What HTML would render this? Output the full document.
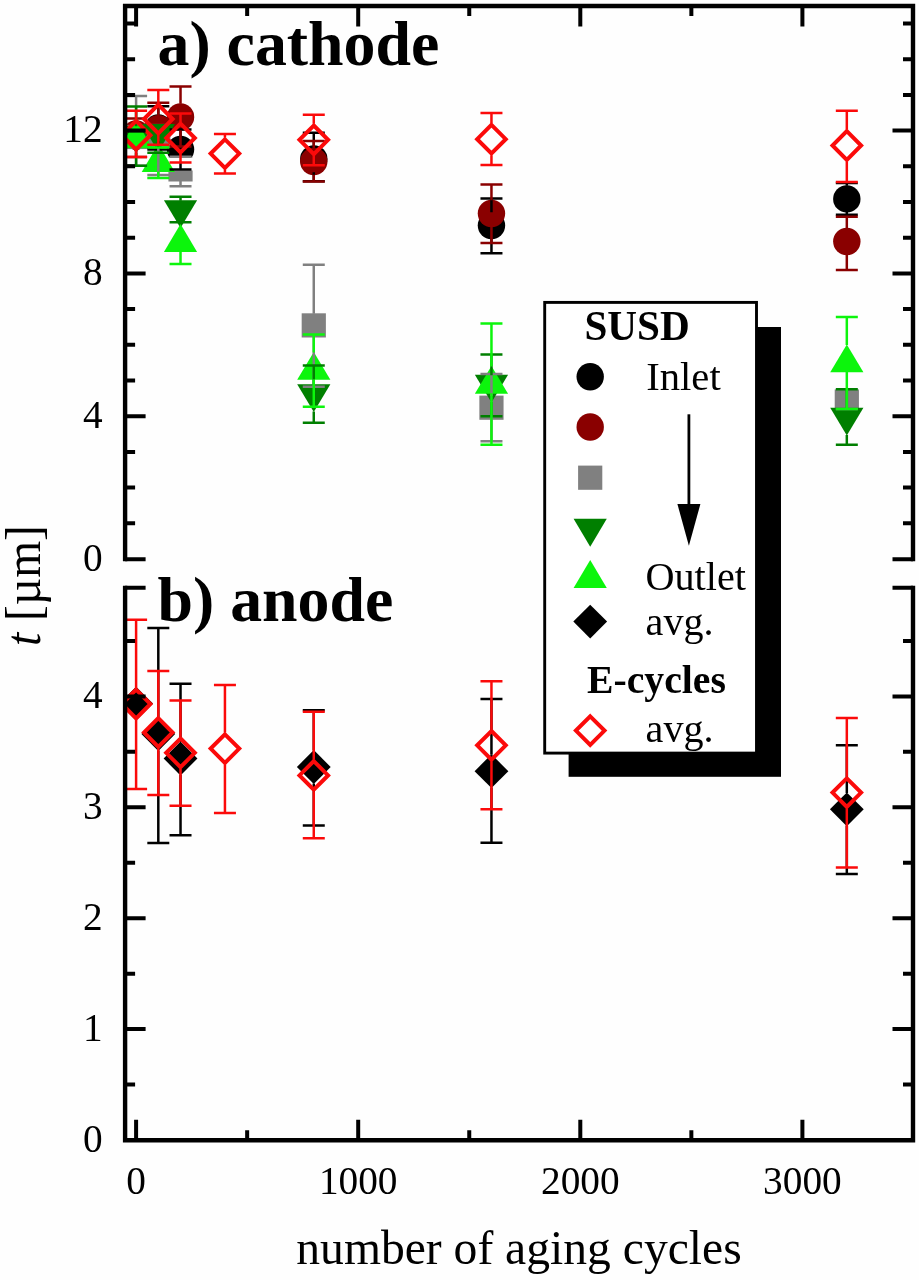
<!DOCTYPE html>
<html lang="en"><head><meta charset="utf-8"><title>Electrode thickness vs. number of aging cycles</title>
<style>html,body{margin:0;padding:0;background:#fefefe}body{width:919px;height:1280px;overflow:hidden}svg{display:block;filter:blur(0.55px)}</style>
</head><body>
<svg width="919" height="1280" viewBox="0 0 919 1280" font-family="'Liberation Serif', 'Times New Roman', serif">
<defs><clipPath id="cu"><rect x="125.1" y="6" width="787.9" height="573.2"/></clipPath>
<clipPath id="cl"><rect x="125.1" y="587.8" width="787.9" height="552.4"/></clipPath></defs>
<rect width="919" height="1280" fill="#fefefe"/>
<g clip-path="url(#cu)">
<circle cx="136.1" cy="136" r="13.7" fill="#000000"/>
<circle cx="158.31" cy="128" r="13.7" fill="#000000"/>
<circle cx="180.52" cy="149.4" r="13.7" fill="#000000"/>
<circle cx="313.78" cy="159" r="13.7" fill="#000000"/>
<circle cx="491.46" cy="225.5" r="13.7" fill="#000000"/>
<circle cx="846.82" cy="198.9" r="13.7" fill="#000000"/>
<circle cx="136.1" cy="134" r="13.7" fill="#8a0000"/>
<circle cx="158.31" cy="128.7" r="13.7" fill="#8a0000"/>
<circle cx="180.52" cy="117" r="13.7" fill="#8a0000"/>
<circle cx="313.78" cy="161.5" r="13.7" fill="#8a0000"/>
<circle cx="491.46" cy="213.5" r="13.7" fill="#8a0000"/>
<circle cx="846.82" cy="241.5" r="13.7" fill="#8a0000"/>
<rect x="124" y="124.9" width="24.2" height="24.2" fill="#808080"/>
<rect x="146.21" y="123.9" width="24.2" height="24.2" fill="#808080"/>
<rect x="168.42" y="157.3" width="24.2" height="24.2" fill="#808080"/>
<rect x="301.68" y="313.3" width="24.2" height="24.2" fill="#808080"/>
<rect x="479.36" y="395.6" width="24.2" height="24.2" fill="#808080"/>
<rect x="834.72" y="389.4" width="24.2" height="24.2" fill="#808080"/>
<rect x="166.5" y="157.6" width="28" height="12.9" fill="#fdfdfd"/>
<path d="M119.5 125.7H152.7L136.1 153.6Z" fill="#007f00"/>
<path d="M141.71 124H174.91L158.31 151.9Z" fill="#007f00"/>
<path d="M163.92 200.2H197.12L180.52 228.1Z" fill="#007f00"/>
<path d="M297.18 384.2H330.38L313.78 412.1Z" fill="#007f00"/>
<path d="M474.86 374.7H508.06L491.46 402.6Z" fill="#007f00"/>
<path d="M830.22 407.7H863.42L846.82 435.6Z" fill="#007f00"/>
<path d="M119.5 148.3H152.7L136.1 120.4Z" fill="#0cf50c"/>
<path d="M141.71 172H174.91L158.31 144.1Z" fill="#0cf50c"/>
<path d="M163.92 251.9H197.12L180.52 224Z" fill="#0cf50c"/>
<path d="M297.18 379.8H330.38L313.78 351.9Z" fill="#0cf50c"/>
<path d="M474.86 393.8H508.06L491.46 365.9Z" fill="#0cf50c"/>
<path d="M830.22 372.3H863.42L846.82 344.4Z" fill="#0cf50c"/>
<path d="M125.1 130.9H147.1" stroke="#000000" stroke-width="2.5" fill="none"/>
<path d="M147.31 106.3H169.31M158.31 106.3V114.8M147.31 149.6H169.31M158.31 141.2V149.6" stroke="#000000" stroke-width="2.5" fill="none"/>
<path d="M169.52 129.4H191.52M180.52 129.4V136.2M169.52 169.4H191.52M180.52 162.6V169.4" stroke="#000000" stroke-width="2.5" fill="none"/>
<path d="M302.78 132.8H324.78M313.78 132.8V145.8M302.78 181.25H324.78M313.78 172.2V181.25" stroke="#000000" stroke-width="2.5" fill="none"/>
<path d="M480.46 198.5H502.46M491.46 198.5V212.3M480.46 253.3H502.46M491.46 238.7V253.3" stroke="#000000" stroke-width="2.5" fill="none"/>
<path d="M835.82 183H857.82M846.82 183V185.7M835.82 214.7H857.82M846.82 212.1V214.7" stroke="#000000" stroke-width="2.5" fill="none"/>
<path d="M125.1 118.5H147.1M136.1 118.5V120.8M125.1 157.1H147.1M136.1 147.2V157.1" stroke="#8a0000" stroke-width="2.5" fill="none"/>
<path d="M147.31 102.75H169.31M158.31 102.75V115.5" stroke="#8a0000" stroke-width="2.5" fill="none"/>
<path d="M169.52 86.5H191.52M180.52 86.5V103.8M169.52 146.5H191.52M180.52 130.2V146.5" stroke="#8a0000" stroke-width="2.5" fill="none"/>
<path d="M302.78 141H324.78M313.78 141V148.3M302.78 181.5H324.78M313.78 174.7V181.5" stroke="#8a0000" stroke-width="2.5" fill="none"/>
<path d="M480.46 184.5H502.46M491.46 184.5V200.3M480.46 243.1H502.46M491.46 226.7V243.1" stroke="#8a0000" stroke-width="2.5" fill="none"/>
<path d="M835.82 216.7H857.82M846.82 216.7V228.3M835.82 270H857.82M846.82 254.7V270" stroke="#8a0000" stroke-width="2.5" fill="none"/>
<path d="M125.1 96H147.1M136.1 96V125.4M125.1 165.7H147.1M136.1 148.6V165.7" stroke="#808080" stroke-width="2.5" fill="none"/>
<path d="M147.31 175.1H169.31M158.31 147.6V175.1" stroke="#808080" stroke-width="2.5" fill="none"/>
<path d="M169.52 156.7H191.52M180.52 156.7V157.8M169.52 186.2H191.52M180.52 181V186.2" stroke="#808080" stroke-width="2.5" fill="none"/>
<path d="M302.78 264.8H324.78M313.78 264.8V313.8M302.78 386.7H324.78M313.78 337V386.7" stroke="#808080" stroke-width="2.5" fill="none"/>
<path d="M480.46 374H502.46M491.46 374V396.1M480.46 441.25H502.46M491.46 419.3V441.25" stroke="#808080" stroke-width="2.5" fill="none"/>
<path d="M835.82 394H857.82M835.82 409H857.82" stroke="#808080" stroke-width="2.5" fill="none"/>
<path d="M125.1 106.5H147.1M136.1 106.5V126.2M125.1 165.7H147.1M136.1 153.1V165.7" stroke="#007f00" stroke-width="2.5" fill="none"/>
<path d="M147.31 152.7H169.31M158.31 151.4V152.7" stroke="#007f00" stroke-width="2.5" fill="none"/>
<path d="M169.52 196.8H191.52M180.52 196.8V200.7M169.52 222.2H191.52" stroke="#007f00" stroke-width="2.5" fill="none"/>
<path d="M302.78 365.6H324.78M313.78 365.6V384.7M302.78 422.7H324.78M313.78 411.6V422.7" stroke="#007f00" stroke-width="2.5" fill="none"/>
<path d="M480.46 354.4H502.46M491.46 354.4V375.2M480.46 416.25H502.46M491.46 402.1V416.25" stroke="#007f00" stroke-width="2.5" fill="none"/>
<path d="M835.82 389.2H857.82M846.82 389.2V408.2M835.82 444.7H857.82M846.82 435.1V444.7" stroke="#007f00" stroke-width="2.5" fill="none"/>

<path d="M147.31 147.4H169.31M147.31 178H169.31M158.31 171.5V178" stroke="#0cf50c" stroke-width="2.5" fill="none"/>
<path d="M169.52 264H191.52M180.52 251.4V264" stroke="#0cf50c" stroke-width="2.5" fill="none"/>
<path d="M302.78 334.4H324.78M313.78 334.4V352.4M302.78 406.7H324.78M313.78 379.3V406.7" stroke="#0cf50c" stroke-width="2.5" fill="none"/>
<path d="M480.46 323.6H502.46M491.46 323.6V366.4M480.46 444.7H502.46M491.46 393.3V444.7" stroke="#0cf50c" stroke-width="2.5" fill="none"/>
<path d="M835.82 317H857.82M846.82 317V344.9M835.82 409H857.82M846.82 371.8V409" stroke="#0cf50c" stroke-width="2.5" fill="none"/>
<path d="M125.1 110.7H147.1M136.1 110.7V119.2M125.1 157.1H147.1M136.1 151.2V157.1" stroke="#fb0a0a" stroke-width="2.5" fill="none"/>
<path d="M136.1 120.9L150.4 135.2L136.1 149.5L121.8 135.2Z" fill="none" stroke="#fb0a0a" stroke-width="4"/>
<path d="M147.31 89.9H169.31M158.31 89.9V103M147.31 144.8H169.31M158.31 135V144.8" stroke="#fb0a0a" stroke-width="2.5" fill="none"/>
<path d="M158.31 104.7L172.61 119L158.31 133.3L144.01 119Z" fill="none" stroke="#fb0a0a" stroke-width="4"/>
<path d="M169.52 113.5H191.52M180.52 113.5V122M169.52 162.5H191.52M180.52 154V162.5" stroke="#fb0a0a" stroke-width="2.5" fill="none"/>
<path d="M180.52 123.7L194.82 138L180.52 152.3L166.22 138Z" fill="none" stroke="#fb0a0a" stroke-width="4"/>
<path d="M213.94 134H235.94M224.94 134V137.6M213.94 173.4H235.94M224.94 169.6V173.4" stroke="#fb0a0a" stroke-width="2.5" fill="none"/>
<path d="M224.94 139.3L239.24 153.6L224.94 167.9L210.64 153.6Z" fill="none" stroke="#fb0a0a" stroke-width="4"/>
<path d="M302.78 114.8H324.78M313.78 114.8V123.8M302.78 165.2H324.78M313.78 155.8V165.2" stroke="#fb0a0a" stroke-width="2.5" fill="none"/>
<path d="M313.78 125.5L328.08 139.8L313.78 154.1L299.48 139.8Z" fill="none" stroke="#fb0a0a" stroke-width="4"/>
<path d="M480.46 113H502.46M491.46 113V123.2M480.46 165H502.46M491.46 155.2V165" stroke="#fb0a0a" stroke-width="2.5" fill="none"/>
<path d="M491.46 124.9L505.76 139.2L491.46 153.5L477.16 139.2Z" fill="none" stroke="#fb0a0a" stroke-width="4"/>
<path d="M835.82 110.8H857.82M846.82 110.8V129.5M835.82 181.9H857.82M846.82 161.5V181.9" stroke="#fb0a0a" stroke-width="2.5" fill="none"/>
<path d="M846.82 131.2L861.12 145.5L846.82 159.8L832.52 145.5Z" fill="none" stroke="#fb0a0a" stroke-width="4"/>
</g>
<g clip-path="url(#cl)">
<path d="M136.1 686.7L153 703.6L136.1 720.5L119.2 703.6Z" fill="#000000"/>
<path d="M158.31 717.1L175.21 734L158.31 750.9L141.41 734Z" fill="#000000"/>
<path d="M180.52 741.6L197.42 758.5L180.52 775.4L163.62 758.5Z" fill="#000000"/>
<path d="M313.78 750.1L330.68 767L313.78 783.9L296.88 767Z" fill="#000000"/>
<path d="M491.46 754.3L508.36 771.2L491.46 788.1L474.56 771.2Z" fill="#000000"/>
<path d="M846.82 792.4L863.72 809.3L846.82 826.2L829.92 809.3Z" fill="#000000"/>
<path d="M147.31 628H169.31M158.31 628V717.6M147.31 843.1H169.31M158.31 750.4V843.1" stroke="#000000" stroke-width="2.5" fill="none"/>
<path d="M169.52 683.7H191.52M180.52 683.7V742.1M169.52 835.2H191.52M180.52 774.9V835.2" stroke="#000000" stroke-width="2.5" fill="none"/>
<path d="M302.78 710.3H324.78M313.78 710.3V750.6M302.78 825.4H324.78M313.78 783.4V825.4" stroke="#000000" stroke-width="2.5" fill="none"/>
<path d="M480.46 699H502.46M491.46 699V754.8M480.46 842.8H502.46M491.46 787.6V842.8" stroke="#000000" stroke-width="2.5" fill="none"/>
<path d="M835.82 745.3H857.82M846.82 745.3V792.9M835.82 874.1H857.82M846.82 825.7V874.1" stroke="#000000" stroke-width="2.5" fill="none"/>
<path d="M125.1 619.7H147.1M136.1 619.7V688M125.1 788.9H147.1M136.1 720V788.9" stroke="#fb0a0a" stroke-width="2.5" fill="none"/>
<path d="M136.1 689.7L150.4 704L136.1 718.3L121.8 704Z" fill="none" stroke="#fb0a0a" stroke-width="4"/>
<path d="M147.31 671.1H169.31M158.31 671.1V716.5M147.31 795H169.31M158.31 748.5V795" stroke="#fb0a0a" stroke-width="2.5" fill="none"/>
<path d="M158.31 718.2L172.61 732.5L158.31 746.8L144.01 732.5Z" fill="none" stroke="#fb0a0a" stroke-width="4"/>
<path d="M169.52 700.5H191.52M180.52 700.5V736.8M169.52 805.8H191.52M180.52 768.8V805.8" stroke="#fb0a0a" stroke-width="2.5" fill="none"/>
<path d="M180.52 738.5L194.82 752.8L180.52 767.1L166.22 752.8Z" fill="none" stroke="#fb0a0a" stroke-width="4"/>
<path d="M213.94 684.9H235.94M224.94 684.9V732.6M213.94 812.9H235.94M224.94 764.6V812.9" stroke="#fb0a0a" stroke-width="2.5" fill="none"/>
<path d="M224.94 734.3L239.24 748.6L224.94 762.9L210.64 748.6Z" fill="none" stroke="#fb0a0a" stroke-width="4"/>
<path d="M302.78 711.8H324.78M313.78 711.8V759.4M302.78 838.2H324.78M313.78 791.4V838.2" stroke="#fb0a0a" stroke-width="2.5" fill="none"/>
<path d="M313.78 761.1L328.08 775.4L313.78 789.7L299.48 775.4Z" fill="none" stroke="#fb0a0a" stroke-width="4"/>
<path d="M480.46 681.3H502.46M491.46 681.3V729.3M480.46 809.3H502.46M491.46 761.3V809.3" stroke="#fb0a0a" stroke-width="2.5" fill="none"/>
<path d="M491.46 731L505.76 745.3L491.46 759.6L477.16 745.3Z" fill="none" stroke="#fb0a0a" stroke-width="4"/>
<path d="M835.82 717.9H857.82M846.82 717.9V776.6M835.82 867.5H857.82M846.82 808.6V867.5" stroke="#fb0a0a" stroke-width="2.5" fill="none"/>
<path d="M846.82 778.3L861.12 792.6L846.82 806.9L832.52 792.6Z" fill="none" stroke="#fb0a0a" stroke-width="4"/>
</g>
<path d="M125.1 3.8V561.2M913 3.8V561.2M122.9 6H915.2M125.1 585.8V1142.4M913 585.8V1142.4M122.9 1140.2H915.2" stroke="#000" stroke-width="4.4" fill="none"/>
<path d="M136.1 6v20.5M136.1 1140.2v-20.5M247.15 6v10M247.15 1140.2v-10M358.2 6v20.5M358.2 1140.2v-20.5M469.25 6v10M469.25 1140.2v-10M580.3 6v20.5M580.3 1140.2v-20.5M691.35 6v10M691.35 1140.2v-10M802.4 6v20.5M802.4 1140.2v-20.5M125.1 559.2h20.5M913 559.2h-20.5M125.1 523.3h10M913 523.3h-10M125.1 487.6h10M913 487.6h-10M125.1 451.9h10M913 451.9h-10M125.1 416.2h20.5M913 416.2h-20.5M125.1 380.5h10M913 380.5h-10M125.1 344.8h10M913 344.8h-10M125.1 309.1h10M913 309.1h-10M125.1 273.4h20.5M913 273.4h-20.5M125.1 237.7h10M913 237.7h-10M125.1 202h10M913 202h-10M125.1 166.3h10M913 166.3h-10M125.1 130.6h20.5M913 130.6h-20.5M125.1 94.9h10M913 94.9h-10M125.1 59.2h10M913 59.2h-10M125.1 23.5h10M913 23.5h-10M125.1 1084.55h10M913 1084.55h-10M125.1 1029.1h20.5M913 1029.1h-20.5M125.1 973.65h10M913 973.65h-10M125.1 918.2h20.5M913 918.2h-20.5M125.1 862.75h10M913 862.75h-10M125.1 807.3h20.5M913 807.3h-20.5M125.1 751.85h10M913 751.85h-10M125.1 696.4h20.5M913 696.4h-20.5M125.1 640.95h10M913 640.95h-10M125.1 587.8h20.5M913 587.8h-20.5" stroke="#000" stroke-width="4.0" fill="none"/>
<g font-size="39.3" fill="#000">
<text x="102.6" y="570.9" text-anchor="end">0</text>
<text x="102.6" y="427.9" text-anchor="end">4</text>
<text x="102.6" y="285.1" text-anchor="end">8</text>
<text x="102.6" y="142.3" text-anchor="end">12</text>
<text x="102.6" y="1151.7" text-anchor="end">0</text>
<text x="102.6" y="1040.8" text-anchor="end">1</text>
<text x="102.6" y="929.9" text-anchor="end">2</text>
<text x="102.6" y="819" text-anchor="end">3</text>
<text x="102.6" y="708.1" text-anchor="end">4</text>
<text x="136.1" y="1194.4" text-anchor="middle">0</text>
<text x="358.2" y="1194.4" text-anchor="middle">1000</text>
<text x="580.3" y="1194.4" text-anchor="middle">2000</text>
<text x="802.4" y="1194.4" text-anchor="middle">3000</text>
</g>
<text x="519" y="1264" font-size="47.6" text-anchor="middle">number of aging cycles</text>
<text transform="translate(39.6 585.6) rotate(-90) scale(0.955 1)" font-size="49.7" text-anchor="middle"><tspan font-style="italic">t</tspan> [µm]</text>
<text x="157.5" y="65" font-size="63.8" font-weight="bold">a) cathode</text>
<text x="157.5" y="620.5" font-size="63.8" font-weight="bold">b) anode</text>
<rect x="568.6" y="327" width="212.4" height="449.8" fill="#000"/>
<rect x="544.7" y="302.4" width="211.8" height="450.7" fill="#fff" stroke="#000" stroke-width="2.9"/>
<circle cx="590.2" cy="376.8" r="13.7" fill="#000000"/>
<circle cx="590.2" cy="427" r="13.7" fill="#8a0000"/>
<rect x="578.1" y="465.6" width="24.2" height="24.2" fill="#808080"/>
<path d="M573.6 518.8H606.8L590.2 546.7Z" fill="#007f00"/>
<path d="M573.6 588H606.8L590.2 560.1Z" fill="#0cf50c"/>
<path d="M590.2 604.7L607.1 621.6L590.2 638.5L573.3 621.6Z" fill="#000000"/>
<path d="M590.2 716.3L604.5 730.6L590.2 744.9L575.9 730.6Z" fill="none" stroke="#fb0a0a" stroke-width="4"/>
<g font-size="40.8" fill="#000">
<text x="584.4" y="339.6" font-weight="bold" font-size="41.2">SUSD</text>
<text x="646.3" y="390.4" font-size="40.6">Inlet</text>
<text x="645.5" y="590" font-size="40.2">Outlet</text>
<text x="645.6" y="634.5" font-size="40.1">avg.</text>
<text x="587" y="692.7" font-weight="bold" font-size="39.7">E-cycles</text>
<text x="645.6" y="742.2" font-size="40.1">avg.</text>
</g>
<path d="M688.9 414.3V506" stroke="#000" stroke-width="2.8" fill="none"/>
<path d="M677.4 504H700.4L688.9 545.7Z" fill="#000"/>
</svg>
</body></html>
